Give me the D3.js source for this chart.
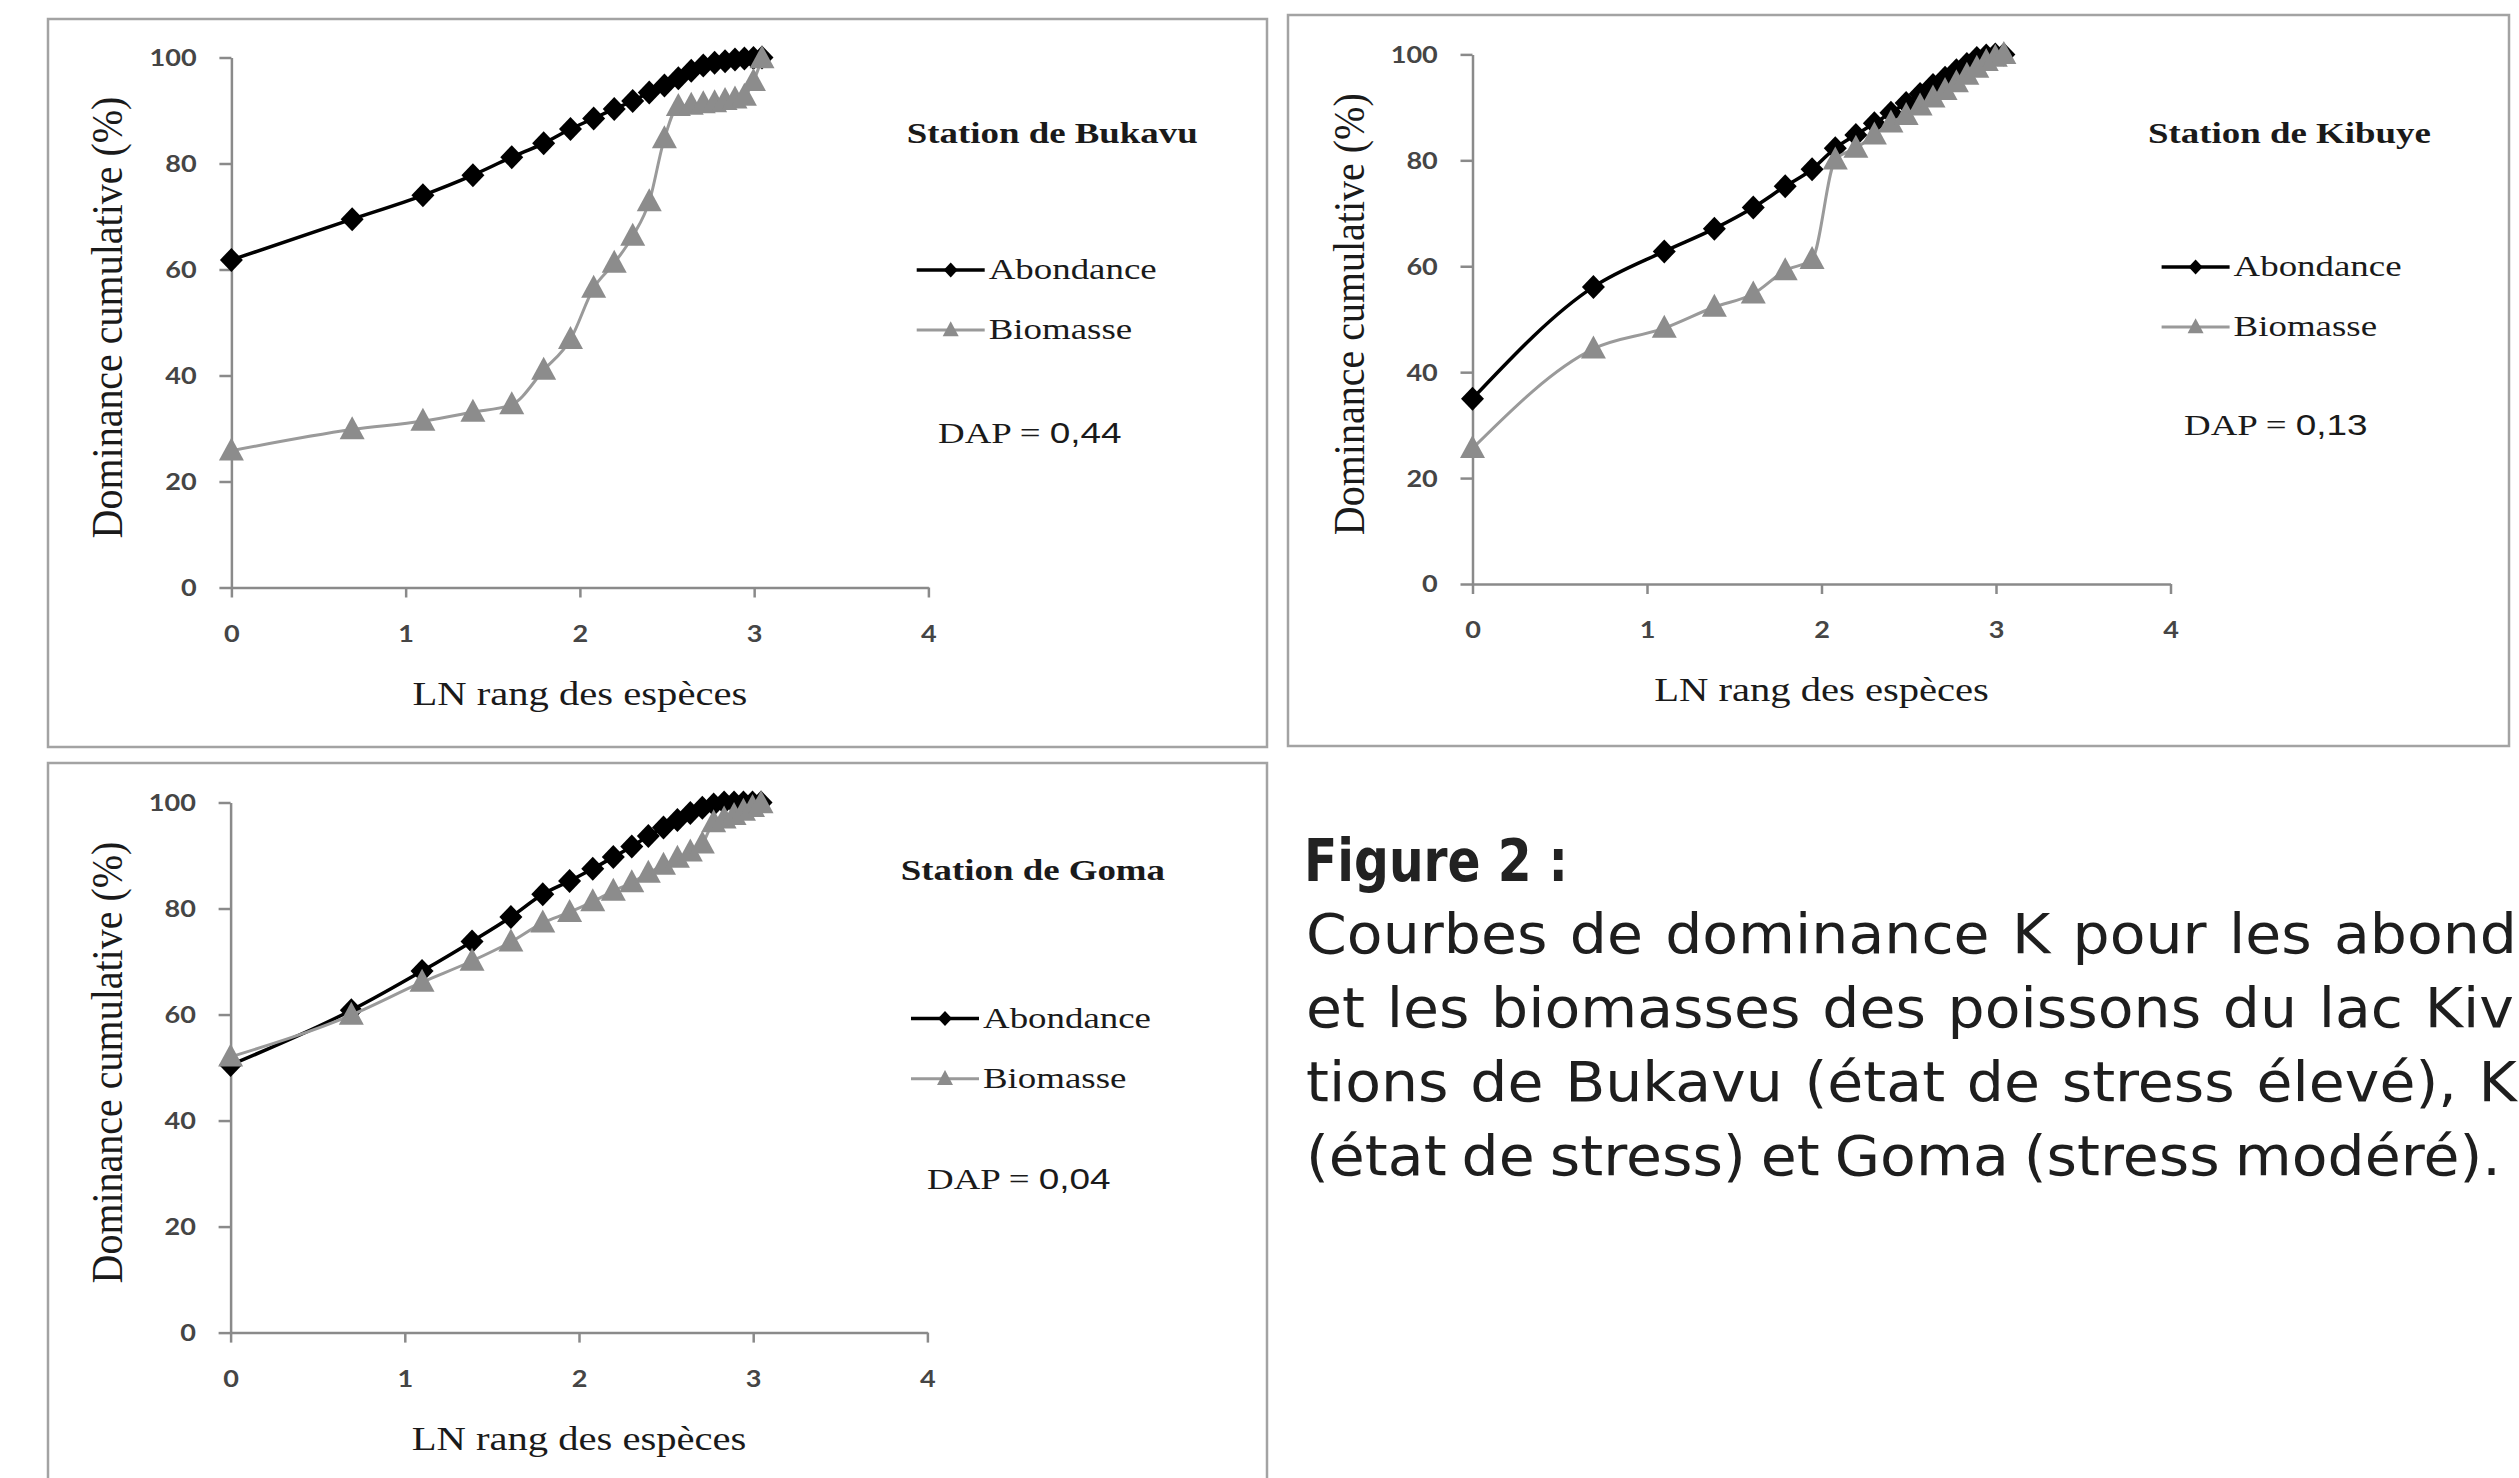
<!DOCTYPE html>
<html>
<head>
<meta charset="utf-8">
<script src="https://cdn.jsdelivr.net/npm/d3@7"></script>
<style>
  html, body { margin: 0; padding: 0; background: #fff; }
  svg { display: block; }
</style>
</head>
<body>
<svg id="chart" width="2519" height="1478"></svg>
<script>
// ---------------- DATA ----------------
const lnRank = [0, 0.693, 1.099, 1.386, 1.609, 1.792, 1.946, 2.079, 2.197, 2.303, 2.398,
                2.485, 2.565, 2.639, 2.708, 2.773, 2.833, 2.890, 2.944, 2.996, 3.045];

const bukavuAbondance = [61.8, 69.5, 74.0, 77.8, 81.2, 83.8, 86.5, 88.5, 90.3, 91.8, 93.4,
                         94.7, 96.1, 97.5, 98.5, 99.0, 99.3, 99.6, 99.8, 99.9, 100];
const bukavuBiomasse  = [25.8, 29.8, 31.4, 33.1, 34.5, 41.0, 46.8, 56.5, 61.2, 66.3, 72.8,
                         84.7, 90.8, 91.0, 91.3, 91.5, 91.9, 92.2, 92.7, 95.5, 99.8];
const kibuyeAbondance = [35.0, 56.1, 62.8, 67.1, 71.1, 75.1, 78.3, 82.3, 84.8, 87.0, 89.0,
                         90.8, 92.5, 94.2, 95.6, 97.0, 98.2, 99.3, 99.8, 100, 100];
const kibuyeBiomasse  = [25.6, 44.4, 48.3, 52.3, 54.8, 59.2, 61.3, 80.1, 82.3, 84.8, 87.1,
                         88.5, 90.3, 91.8, 93.2, 94.7, 96.1, 97.4, 98.7, 99.5, 100];
const gomaAbondance   = [50.5, 60.8, 68.2, 73.8, 78.4, 82.7, 85.2, 87.5, 89.7, 91.7, 93.7,
                         95.3, 96.7, 98.0, 99.0, 99.6, 100, 100, 100, 100, 100];
const gomaBiomasse    = [52.0, 59.9, 66.1, 70.1, 73.7, 77.3, 79.3, 81.3, 83.3, 84.9, 86.7,
                         88.2, 89.5, 90.7, 92.2, 96.2, 96.9, 97.6, 98.4, 99.1, 99.8];

const yTicks = [0, 20, 40, 60, 80, 100];
const xTicks = [0, 1, 2, 3, 4];
const stations = ["Station de Bukavu", "Station de Kibuye", "Station de Goma"];
const dapValues = ["0,44", "0,13", "0,04"];
const seriesNames = ["Abondance", "Biomasse"];
const xTitle = "LN rang des espèces";
const yTitle = "Dominance cumulative (%)";
const captionTitle = "Figure 2 :";
const captionLines = [
  "Courbes de dominance K pour les abond",
  "et les biomasses des poissons du lac Kiv",
  "tions de Bukavu (état de stress élevé), K",
  "(état de stress) et Goma (stress modéré)."
];

// ---------------- LAYOUT ----------------
const SX = 1.23; // horizontal stretch of the reference's texts
const panelData = [
  { ab: bukavuAbondance, bio: bukavuBiomasse },
  { ab: kibuyeAbondance, bio: kibuyeBiomasse },
  { ab: gomaAbondance,   bio: gomaBiomasse }
];
const layout = [
  { frame: [48, 19, 1219, 728], xr: [231.4, 928.4], yr: [587.5, 57.5],
    title: [906.7, 143], leg: [916.7, 270, 330], dap: [938, 443] },
  { frame: [1288, 15, 1221, 731], xr: [1472.5, 2170.5], yr: [584, 54.4],
    title: [2148, 143], leg: [2161.6, 267, 327], dap: [2184, 435] },
  { frame: [48, 763, 1219, 760], xr: [230.6, 927.4], yr: [1332.6, 802.5],
    title: [900.7, 880], leg: [911, 1018.5, 1078.7], dap: [927, 1188.7] }
];

const svg = d3.select("#chart");
svg.append("rect").attr("width", 2519).attr("height", 1478).attr("fill", "#fff");

const serif = "'Liberation Serif', 'Times New Roman', serif";
const sans = "Lato, 'Liberation Sans', sans-serif";
const AXIS_COL = "#8a8a8a";
const GRAY_LINE = "#9a9a9a";
const GRAY_MARK = "#8c8c8c";

const diamond = (w, h) => `M0,${-h}L${w},0L0,${h}L${-w},0Z`;
const triangle = (w, h) => `M0,${-h * 0.58}L${w},${h * 0.42}L${-w},${h * 0.42}Z`;

panelData.forEach((pd, i) => {
  const L = layout[i];
  const g = svg.append("g");

  g.append("rect")
    .attr("x", L.frame[0]).attr("y", L.frame[1])
    .attr("width", L.frame[2]).attr("height", L.frame[3])
    .attr("fill", "none").attr("stroke", "#a3a3a3").attr("stroke-width", 2.5);

  const x = d3.scaleLinear().domain([0, 4]).range(L.xr);
  const y = d3.scaleLinear().domain([0, 100]).range(L.yr);

  // axes
  const yAx = g.append("g").attr("transform", `translate(${L.xr[0]},0)`)
    .call(d3.axisLeft(y).tickValues(yTicks).tickSize(12).tickSizeOuter(0).tickFormat(d3.format("d")));
  const xAx = g.append("g").attr("transform", `translate(0,${L.yr[0]})`)
    .call(d3.axisBottom(x).tickValues(xTicks).tickSize(10).tickSizeOuter(0).tickFormat(d3.format("d")));
  [yAx, xAx].forEach(a => {
    a.select(".domain").attr("stroke", AXIS_COL).attr("stroke-width", 2.5);
    a.selectAll(".tick line").attr("stroke", AXIS_COL).attr("stroke-width", 2.5);
    a.selectAll("text").attr("font-family", sans).attr("font-size", 22)
      .attr("font-weight", "bold").attr("fill", "#454545");
  });
  yAx.selectAll("text").attr("x", 0).attr("dy", "0.36em").attr("text-anchor", "end")
    .attr("transform", `translate(-34.7,0) scale(${SX},1)`);
  xAx.selectAll("text").attr("y", 0).attr("dy", 0).attr("text-anchor", "middle")
    .attr("transform", `translate(0,54) scale(${SX},1)`);

  // axis titles
  g.append("text")
    .attr("transform", `translate(${L.xr[0] - 109},${(L.yr[0] + L.yr[1]) / 2 - 5}) scale(1.1,1) rotate(-90)`)
    .attr("text-anchor", "middle").attr("font-family", serif).attr("font-size", 40)
    .attr("fill", "#1a1a1a").text(yTitle);
  g.append("text")
    .attr("transform", `translate(${x(2)},${L.yr[0] + 117}) scale(${SX},1)`)
    .attr("text-anchor", "middle").attr("font-family", serif).attr("font-size", 33)
    .attr("fill", "#1a1a1a").text(xTitle);

  // series
  const line = d3.line().x((d, k) => x(lnRank[k])).y(d => y(d)).curve(d3.curveMonotoneX);
  g.append("path").datum(pd.ab).attr("d", line)
    .attr("fill", "none").attr("stroke", "#000").attr("stroke-width", 3.5);
  g.selectAll(".dia").data(pd.ab).join("path").attr("class", "dia")
    .attr("transform", (d, k) => `translate(${x(lnRank[k])},${y(d)})`)
    .attr("d", diamond(11.5, 12)).attr("fill", "#000");

  g.append("path").datum(pd.bio).attr("d", line)
    .attr("fill", "none").attr("stroke", GRAY_LINE).attr("stroke-width", 3);
  g.selectAll(".tri").data(pd.bio).join("path").attr("class", "tri")
    .attr("transform", (d, k) => `translate(${x(lnRank[k])},${y(d)})`)
    .attr("d", triangle(12.5, 23)).attr("fill", GRAY_MARK);

  // station title
  g.append("text").attr("transform", `translate(${L.title[0]},${L.title[1]}) scale(${SX},1)`)
    .attr("font-family", serif).attr("font-weight", "bold").attr("font-size", 30)
    .attr("fill", "#1a1a1a").text(stations[i]);

  // legend
  const lx = L.leg[0];
  [[L.leg[1], "#000", 3.5, diamond(7, 7.5), "#000"],
   [L.leg[2], GRAY_LINE, 3, triangle(8, 15), GRAY_MARK]].forEach((s, k) => {
    g.append("line").attr("x1", lx).attr("x2", lx + 68).attr("y1", s[0]).attr("y2", s[0])
      .attr("stroke", s[1]).attr("stroke-width", s[2]);
    g.append("path").attr("transform", `translate(${lx + 34},${s[0]})`).attr("d", s[3]).attr("fill", s[4]);
    g.append("text").attr("transform", `translate(${lx + 72},${s[0] + 9}) scale(${SX},1)`)
      .attr("font-family", serif).attr("font-size", 30).attr("fill", "#1a1a1a").text(seriesNames[k]);
  });

  // DAP
  const dt = g.append("text").attr("transform", `translate(${L.dap[0]},${L.dap[1]}) scale(${SX},1)`)
    .attr("font-size", 30).attr("fill", "#1a1a1a");
  dt.append("tspan").attr("font-family", serif).text("DAP = ");
  dt.append("tspan").attr("font-family", "'Liberation Sans', Arial, sans-serif").text(dapValues[i]);
});

// ---------------- CAPTION ----------------
const capFont = "'DejaVu Sans', 'Liberation Sans', sans-serif";
svg.append("text").attr("x", 1304).attr("y", 881)
  .attr("font-family", capFont).attr("font-weight", "bold").attr("font-size", 58)
  .attr("fill", "#222").attr("textLength", 264).attr("lengthAdjust", "spacingAndGlyphs")
  .text(captionTitle);

const capX0 = 1306;
const capSpec = [
  { y: 953, x1: 2517 },
  { y: 1027, x1: 2514 },
  { y: 1100.5, x1: 2517 },
  { y: 1175, x1: 2501 }
];
const capGroups = captionLines.map(ln => {
  const words = ln.split(" ");
  const lg = svg.append("g");
  const texts = words.map(w => lg.append("text")
    .attr("font-family", capFont).attr("font-size", 56)
    .attr("fill", "#1e1e1e").text(w));
  const widths = texts.map(t => t.node().getComputedTextLength());
  return { texts, widths };
});
// horizontal squeeze derived from the last (unjustified) line with normal spaces
const NORMAL_GAP = 15;
const last = capGroups[3];
const CSX = (capSpec[3].x1 - capX0 - NORMAL_GAP * (last.texts.length - 1)) / d3.sum(last.widths);
capGroups.forEach((cg, i) => {
  const widths = cg.widths.map(w => w * CSX);
  const avail = capSpec[i].x1 - capX0;
  const gap = (avail - d3.sum(widths)) / (widths.length - 1);
  let cx = capX0;
  cg.texts.forEach((t, k) => {
    t.attr("transform", `translate(${cx},${capSpec[i].y}) scale(${CSX},1)`);
    cx += widths[k] + gap;
  });
});
</script>
</body>
</html>
